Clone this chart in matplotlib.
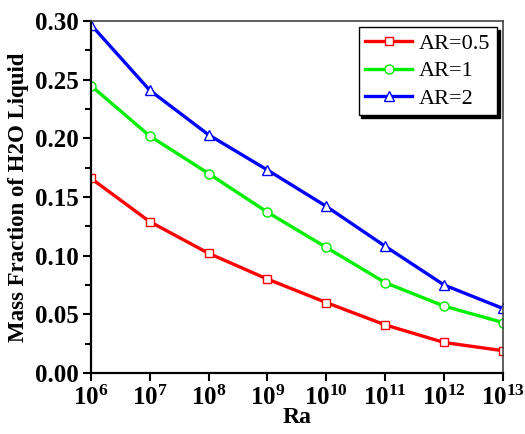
import numpy as np
import matplotlib
matplotlib.use('Agg')
import matplotlib.pyplot as plt
from matplotlib.ticker import FixedLocator, NullLocator, MultipleLocator

plt.rcParams['font.family'] = ['Liberation Serif', 'DejaVu Serif']

ra = [1e6, 1e7, 1e8, 1e9, 1e10, 1e11, 1e12, 1e13]
ar05 = [0.166, 0.129, 0.102, 0.080, 0.060, 0.041, 0.026, 0.019]
ar1 = [0.245, 0.202, 0.170, 0.137, 0.107, 0.077, 0.057, 0.043]
ar2 = [0.297, 0.241, 0.203, 0.173, 0.142, 0.108, 0.075, 0.055]
labels = ['AR=0.5', 'AR=1', 'AR=2']

fig = plt.figure(figsize=(5.25, 4.34), dpi=100)
ax = fig.add_axes([0.173, 0.1406, 0.785, 0.811])

ax.plot(ra, ar05, color='#ff0000', lw=2.4, marker='s', ms=6, mfc='white', mec='#ff0000', mew=1, label=labels[0])
ax.plot(ra, ar1, color='#00ee00', lw=2.4, marker='o', ms=6.5, mfc='white', mec='#00ee00', mew=1, label=labels[1])
ax.plot(ra, ar2, color='#0000ff', lw=2.4, marker='^', ms=7, mfc='white', mec='#0000ff', mew=1, label=labels[2])

ax.set_xscale('log')
ax.set_xlim(1e6, 1e13)
ax.set_ylim(0, 0.30)
ax.xaxis.set_major_locator(FixedLocator(ra))
ax.xaxis.set_minor_locator(NullLocator())
ax.yaxis.set_major_locator(MultipleLocator(0.05))
ax.yaxis.set_minor_locator(MultipleLocator(0.025))
ax.yaxis.set_major_formatter(plt.FuncFormatter(lambda v, p: '%.2f' % v))

ax.tick_params(which='both', direction='out', width=1.5, labelsize=18, pad=3)
ax.tick_params(which='major', length=6)
ax.tick_params(which='minor', length=4)
for lab in ax.get_xticklabels() + ax.get_yticklabels():
    lab.set_fontweight('bold')

for side in ['left', 'bottom']:
    ax.spines[side].set_linewidth(1.6)
for side in ['top', 'right']:
    ax.spines[side].set_linewidth(1.2)
    ax.spines[side].set_color('#444444')

ax.set_xlabel('Ra', fontsize=17, fontweight='bold', labelpad=-2)
ax.set_ylabel('Mass Fraction of H2O Liquid', fontsize=16.5, fontweight='bold', labelpad=4)

leg = ax.legend(loc='upper right', fontsize=16, frameon=True, fancybox=False, shadow={'color': 'black', 'alpha': 1},
                edgecolor='black', handlelength=2.1, borderpad=0.3, labelspacing=0.3, handletextpad=0.3,
                borderaxespad=0, bbox_to_anchor=(0.985, 0.983))
leg.get_frame().set_linewidth(1)

fig.savefig('out.png', dpi=100)
